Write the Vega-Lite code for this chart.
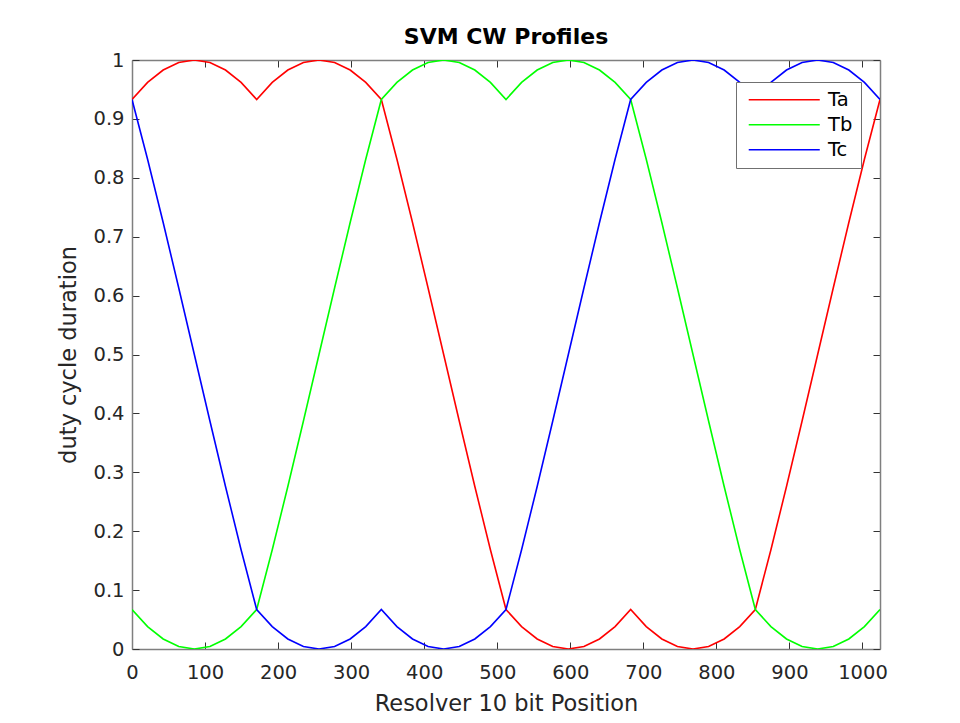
{
  "$schema": "https://vega.github.io/schema/vega-lite/v6.json",
  "width": 748,
  "height": 589,
  "autosize": {"type": "none"},
  "padding": {"left": 132, "top": 60, "right": 80, "bottom": 74},
  "background": "white",
  "title": {"text": "SVM CW Profiles", "font": "DejaVu Sans", "fontSize": 22, "fontWeight": "bold", "color": "#000000", "anchor": "middle", "baseline": "alphabetic", "offset": -16},
  "data": {"values": [
    {"x": 0, "Ta": 0.9330, "Tb": 0.0670, "Tc": 0.9330},
    {"x": 21.33, "Ta": 0.9619, "Tb": 0.0381, "Tc": 0.8314},
    {"x": 42.67, "Ta": 0.9830, "Tb": 0.0170, "Tc": 0.7241},
    {"x": 64, "Ta": 0.9957, "Tb": 0.0043, "Tc": 0.6130},
    {"x": 85.33, "Ta": 1, "Tb": 0, "Tc": 0.5},
    {"x": 106.67, "Ta": 0.9957, "Tb": 0.0043, "Tc": 0.3870},
    {"x": 128, "Ta": 0.9830, "Tb": 0.0170, "Tc": 0.2759},
    {"x": 149.33, "Ta": 0.9619, "Tb": 0.0381, "Tc": 0.1686},
    {"x": 170.67, "Ta": 0.9330, "Tb": 0.0670, "Tc": 0.0670},
    {"x": 192, "Ta": 0.9619, "Tb": 0.1686, "Tc": 0.0381},
    {"x": 213.33, "Ta": 0.9830, "Tb": 0.2759, "Tc": 0.0170},
    {"x": 234.67, "Ta": 0.9957, "Tb": 0.3870, "Tc": 0.0043},
    {"x": 256, "Ta": 1, "Tb": 0.5, "Tc": 0},
    {"x": 277.33, "Ta": 0.9957, "Tb": 0.6130, "Tc": 0.0043},
    {"x": 298.67, "Ta": 0.9830, "Tb": 0.7241, "Tc": 0.0170},
    {"x": 320, "Ta": 0.9619, "Tb": 0.8314, "Tc": 0.0381},
    {"x": 341.33, "Ta": 0.9330, "Tb": 0.9330, "Tc": 0.0670},
    {"x": 362.67, "Ta": 0.8314, "Tb": 0.9619, "Tc": 0.0381},
    {"x": 384, "Ta": 0.7241, "Tb": 0.9830, "Tc": 0.0170},
    {"x": 405.33, "Ta": 0.6130, "Tb": 0.9957, "Tc": 0.0043},
    {"x": 426.67, "Ta": 0.5, "Tb": 1, "Tc": 0},
    {"x": 448, "Ta": 0.3870, "Tb": 0.9957, "Tc": 0.0043},
    {"x": 469.33, "Ta": 0.2759, "Tb": 0.9830, "Tc": 0.0170},
    {"x": 490.67, "Ta": 0.1686, "Tb": 0.9619, "Tc": 0.0381},
    {"x": 512, "Ta": 0.0670, "Tb": 0.9330, "Tc": 0.0670},
    {"x": 533.33, "Ta": 0.0381, "Tb": 0.9619, "Tc": 0.1686},
    {"x": 554.67, "Ta": 0.0170, "Tb": 0.9830, "Tc": 0.2759},
    {"x": 576, "Ta": 0.0043, "Tb": 0.9957, "Tc": 0.3870},
    {"x": 597.33, "Ta": 0, "Tb": 1, "Tc": 0.5},
    {"x": 618.67, "Ta": 0.0043, "Tb": 0.9957, "Tc": 0.6130},
    {"x": 640, "Ta": 0.0170, "Tb": 0.9830, "Tc": 0.7241},
    {"x": 661.33, "Ta": 0.0381, "Tb": 0.9619, "Tc": 0.8314},
    {"x": 682.67, "Ta": 0.0670, "Tb": 0.9330, "Tc": 0.9330},
    {"x": 704, "Ta": 0.0381, "Tb": 0.8314, "Tc": 0.9619},
    {"x": 725.33, "Ta": 0.0170, "Tb": 0.7241, "Tc": 0.9830},
    {"x": 746.67, "Ta": 0.0043, "Tb": 0.6130, "Tc": 0.9957},
    {"x": 768, "Ta": 0, "Tb": 0.5, "Tc": 1},
    {"x": 789.33, "Ta": 0.0043, "Tb": 0.3870, "Tc": 0.9957},
    {"x": 810.67, "Ta": 0.0170, "Tb": 0.2759, "Tc": 0.9830},
    {"x": 832, "Ta": 0.0381, "Tb": 0.1686, "Tc": 0.9619},
    {"x": 853.33, "Ta": 0.0670, "Tb": 0.0670, "Tc": 0.9330},
    {"x": 874.67, "Ta": 0.1686, "Tb": 0.0381, "Tc": 0.9619},
    {"x": 896, "Ta": 0.2759, "Tb": 0.0170, "Tc": 0.9830},
    {"x": 917.33, "Ta": 0.3870, "Tb": 0.0043, "Tc": 0.9957},
    {"x": 938.67, "Ta": 0.5, "Tb": 0, "Tc": 1},
    {"x": 960, "Ta": 0.6130, "Tb": 0.0043, "Tc": 0.9957},
    {"x": 981.33, "Ta": 0.7241, "Tb": 0.0170, "Tc": 0.9830},
    {"x": 1002.67, "Ta": 0.8314, "Tb": 0.0381, "Tc": 0.9619},
    {"x": 1024, "Ta": 0.9330, "Tb": 0.0670, "Tc": 0.9330}
  ]},
  "transform": [{"fold": ["Ta", "Tb", "Tc"], "as": ["series", "value"]}],
  "layer": [
    {
      "mark": {"type": "line", "strokeWidth": 1.6, "clip": true},
      "encoding": {
        "x": {"field": "x", "type": "quantitative",
          "scale": {"domain": [0, 1024], "nice": false, "zero": false},
          "axis": {"orient": "bottom", "values": [0, 100, 200, 300, 400, 500, 600, 700, 800, 900, 1000], "format": "d",
            "title": "Resolver 10 bit Position", "tickSize": -7, "labelPadding": 21, "labelFlush": false,
            "titleX": 374, "titleY": 61, "titleBaseline": "alphabetic", "titleAnchor": "middle", "titleAlign": "center"}},
        "y": {"field": "value", "type": "quantitative",
          "scale": {"domain": [0, 1], "nice": false},
          "axis": {"orient": "left", "values": [0, 0.1, 0.2, 0.3, 0.4, 0.5, 0.6, 0.7, 0.8, 0.9, 1], "format": "~g",
            "title": "duty cycle duration", "tickSize": -7, "labelPadding": 15, "labelFlush": false,
            "titleX": -57, "titleY": 294.5, "titleBaseline": "alphabetic", "titleAngle": -90, "titleAlign": "center"}},
        "color": {"field": "series", "type": "nominal",
          "scale": {"domain": ["Ta", "Tb", "Tc"], "range": ["#ff0000", "#00ff00", "#0000ff"]},
          "legend": {"orient": "none", "legendX": 604, "legendY": 22, "title": null,
            "symbolType": "M-7,0H7", "symbolSize": 103, "symbolStrokeWidth": 1.6, "symbolOffset": 30.5,
            "labelOffset": 34, "rowPadding": 4,
            "labelFont": "DejaVu Sans", "labelFontSize": 19.5, "labelColor": "#000000",
            "fillColor": "white", "strokeColor": "#707070", "padding": 8}}
      }
    },
    {
      "mark": {"type": "line", "opacity": 0},
      "encoding": {
        "x": {"field": "x", "type": "quantitative",
          "axis": {"orient": "top", "values": [0, 100, 200, 300, 400, 500, 600, 700, 800, 900, 1000], "labels": false, "title": null, "tickSize": -7}},
        "y": {"field": "value", "type": "quantitative",
          "axis": {"orient": "right", "values": [0, 0.1, 0.2, 0.3, 0.4, 0.5, 0.6, 0.7, 0.8, 0.9, 1], "labels": false, "title": null, "tickSize": -7}}
      }
    }
  ],
  "resolve": {"axis": {"x": "independent", "y": "independent"}},
  "config": {
    "view": {"stroke": null},
    "axis": {"grid": false, "domainColor": "#7f7f7f", "domainWidth": 1.5, "tickColor": "#333333", "tickWidth": 1,
      "labelColor": "#262626", "titleColor": "#262626", "labelFont": "DejaVu Sans", "titleFont": "DejaVu Sans",
      "labelFontSize": 19.5, "titleFontSize": 22.5, "titleFontWeight": "normal"}
  }
}
